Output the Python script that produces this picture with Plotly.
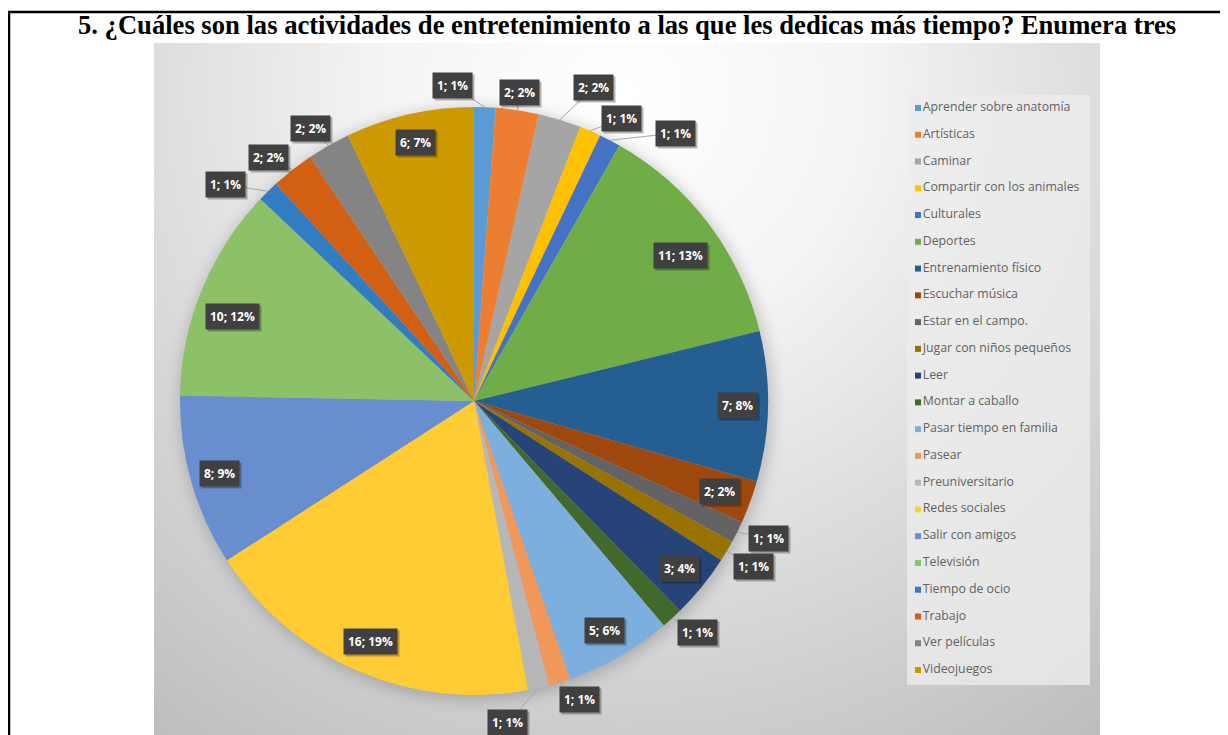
import base64
import math
import plotly.graph_objects as go

# ---------------- data ----------------
categories = [
    "Aprender sobre anatomía", "Artísticas", "Caminar", "Compartir con los animales",
    "Culturales", "Deportes", "Entrenamiento físico", "Escuchar música",
    "Estar en el campo.", "Jugar con niños pequeños", "Leer", "Montar a caballo",
    "Pasar tiempo en familia", "Pasear", "Preuniversitario", "Redes sociales",
    "Salir con amigos", "Televisión", "Tiempo de ocio", "Trabajo",
    "Ver películas", "Videojuegos",
]
values = [1, 2, 2, 1, 1, 11, 7, 2, 1, 1, 3, 1, 5, 1, 1, 16, 8, 10, 1, 2, 2, 6]
title_text = "5. ¿Cuáles son las actividades de entretenimiento a las que les dedicas más tiempo? Enumera tres"

# ---------------- style ----------------
colors = [
    "#5B9BD5", "#ED7D31", "#A5A5A5", "#FFC000", "#4472C4", "#70AD47",
    "#255E91", "#9E480E", "#636363", "#997300", "#264478", "#43682B",
    "#7CAFDD", "#F1975A", "#B7B7B7", "#FFCD33", "#698ED0", "#8CC168",
    "#327DC2", "#D26012", "#848484", "#CC9A00",
]
# label placement: (radius as fraction of pie radius, angle offset in degrees)
label_place = {
    "Aprender sobre anatomía": (1.075, -6), "Artísticas": (1.06, 0),
    "Caminar": (1.14, 4), "Compartir con los animales": (1.085, 4.3),
    "Culturales": (1.14, 9.4), "Deportes": (0.86, 1.8),
    "Entrenamiento físico": (0.895, 0), "Escuchar música": (0.89, 0),
    "Estar en el campo.": (1.105, -1.5), "Jugar con niños pequeños": (1.105, 0),
    "Leer": (0.9, 0), "Montar a caballo": (1.095, -1.6),
    "Pasar tiempo en familia": (0.9, 0), "Pasear": (1.078, -2.5),
    "Preuniversitario": (1.10, 6.7), "Redes sociales": (0.89, 0),
    "Salir con amigos": (0.9, 0), "Televisión": (0.87, -3),
    "Tiempo de ocio": (1.12, -4.5), "Trabajo": (1.085, -2),
    "Ver películas": (1.08, -1.4), "Videojuegos": (0.9, 0),
}

# page is 1228x735; the html body adds an 8px margin, so the figure is offset by 8px
OFF = 8
W, H = 1228 - OFF, 735 - OFF
def px_x(p):
    return (p - OFF) / W
def px_y(p):
    return 1 - (p - OFF) / H

# pie geometry (page pixels)
PCX, PCY, PR = 474, 401, 294
pie_dom_x = [px_x(PCX - PR), px_x(PCX + PR)]
pie_dom_y = [px_y(PCY + PR), px_y(PCY - PR)]

# background picture (chart area) as svg
IMG_X0, IMG_Y0, IMG_X1, IMG_Y1 = 154, 43, 1100, 735
IW, IH = IMG_X1 - IMG_X0, IMG_Y1 - IMG_Y0
svg = f'''<svg xmlns="http://www.w3.org/2000/svg" width="{IW}" height="{IH}" viewBox="0 0 {IW} {IH}">
<defs>
<radialGradient id="g" gradientUnits="userSpaceOnUse" cx="470" cy="50" r="800">
<stop offset="0" stop-color="#ffffff"/>
<stop offset="0.3" stop-color="#f4f4f4"/>
<stop offset="1" stop-color="#bdbdbd"/>
</radialGradient>
<filter id="b" x="-20%" y="-20%" width="140%" height="140%"><feGaussianBlur stdDeviation="8"/></filter>
</defs>
<rect x="0" y="0" width="{IW}" height="{IH}" fill="url(#g)"/>
<circle cx="{PCX - IMG_X0 + 2}" cy="{PCY - IMG_Y0 + 3}" r="{PR + 2}" fill="#000" opacity="0.2" filter="url(#b)"/>
</svg>'''
svg_uri = "data:image/svg+xml;base64," + base64.b64encode(svg.encode("utf-8")).decode()

total = sum(values)
label_texts = [f"{v}; {round(100 * v / total)}%" for v in values]

fig = go.Figure()

fig.add_trace(go.Pie(
    labels=categories, values=values, sort=False, direction="clockwise",
    rotation=0, marker=dict(colors=colors, line=dict(width=0)),
    textinfo="none", hoverinfo="label+value+percent",
    domain=dict(x=pie_dom_x, y=pie_dom_y), showlegend=False,
))

# legend drawn as a scatter on its own axes
LEG_X0, LEG_X1, LEG_Y0, LEG_Y1 = 907, 1090, 95, 685
n = len(categories)
fig.add_trace(go.Scatter(
    x=[0.06] * n, y=list(range(n)), mode="markers+text",
    marker=dict(symbol="square", size=6, color=colors),
    text=categories, textposition="middle right",
    textfont=dict(family="Open Sans", size=12.3, color="#626262"),
    xaxis="x2", yaxis="y2", showlegend=False, hoverinfo="skip", cliponaxis=False,
))
step = (670 - 108) / (n - 1)
y_top = -(108 - LEG_Y0) / step
y_bot = (n - 1) + (LEG_Y1 - 670) / step

# overlay axes in units of pie radius, covering the whole figure
x3_range = [(OFF - PCX) / PR, (OFF + W - PCX) / PR]
y3_range = [-(OFF + H - PCY) / PR, (PCY - OFF) / PR]

shapes = []
annotations = []
cum = 0
for cat, v, t in zip(categories, values, label_texts):
    mid = (cum + v / 2) / total * 360
    cum += v
    r, dth = label_place[cat]
    ang = math.radians(mid + dth)
    lx, ly = r * math.sin(ang), r * math.cos(ang)
    if r > 1:
        m = math.radians(mid)
        shapes.append(dict(type="line", xref="x3", yref="y3",
                           x0=math.sin(m), y0=math.cos(m), x1=lx, y1=ly,
                           line=dict(color="#a6a6a6", width=1)))
    annotations.append(dict(x=lx, y=ly, xref="x3", yref="y3", text=t, showarrow=False,
                            font=dict(family="Open Sans", size=12, color="rgba(0,0,0,0)", weight="bold"),
                            bgcolor="rgba(0,0,0,0.28)", borderpad=4, xshift=2, yshift=-2))
    annotations.append(dict(x=lx, y=ly, xref="x3", yref="y3", text=t, showarrow=False,
                            font=dict(family="Open Sans", size=12, color="#ffffff", weight="bold"),
                            bgcolor="#404040", borderpad=4))

annotations.append(dict(x=px_x(627), y=px_y(25), xref="paper", yref="paper",
                        text=title_text, showarrow=False, xanchor="center", yanchor="middle",
                        font=dict(family="Liberation Serif", size=26.6, color="#000000", weight="bold")))

# document frame lines
shapes.append(dict(type="line", xref="paper", yref="paper", x0=px_x(8), x1=1, y0=px_y(12), y1=px_y(12),
                   line=dict(color="#000000", width=2.5)))
shapes.append(dict(type="line", xref="paper", yref="paper", x0=px_x(9), x1=px_x(9), y0=px_y(12), y1=0,
                   line=dict(color="#000000", width=2.5)))
# legend box
shapes.append(dict(type="rect", xref="paper", yref="paper", x0=px_x(LEG_X0), x1=px_x(LEG_X1),
                   y0=px_y(LEG_Y1), y1=px_y(LEG_Y0), fillcolor="rgba(236,236,236,0.8)",
                   line=dict(width=0), layer="below"))

fig.update_layout(
    width=W, height=H, margin=dict(l=0, r=0, t=0, b=0),
    paper_bgcolor="#ffffff", plot_bgcolor="rgba(0,0,0,0)", showlegend=False,
    images=[dict(source=svg_uri, xref="paper", yref="paper", x=px_x(IMG_X0), y=px_y(IMG_Y0),
                 sizex=IW / W, sizey=IH / H, sizing="stretch", layer="below",
                 xanchor="left", yanchor="top")],
    xaxis=dict(visible=False),
    yaxis=dict(visible=False),
    xaxis2=dict(domain=[px_x(LEG_X0), px_x(LEG_X1)], range=[0, 1], visible=False, anchor="y2"),
    yaxis2=dict(domain=[px_y(LEG_Y1), px_y(LEG_Y0)], range=[y_bot, y_top], visible=False, anchor="x2"),
    xaxis3=dict(domain=[0, 1], range=x3_range, visible=False, anchor="y3"),
    yaxis3=dict(domain=[0, 1], range=y3_range, visible=False, anchor="x3"),
    shapes=shapes, annotations=annotations,
)

fig.write_html("out.html")
